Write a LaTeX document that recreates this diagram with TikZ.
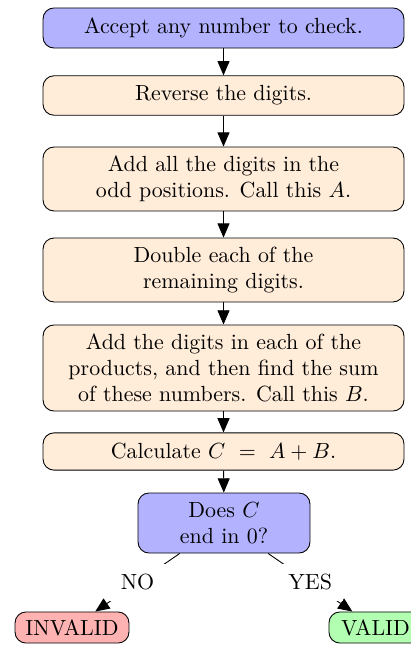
\documentclass[tikz,border=0pt]{standalone}
\usetikzlibrary{arrows.meta}
\begin{document}
\begin{tikzpicture}[x=0.4566pt,y=-0.4566pt,
  box/.style={draw, rounded corners=5pt, align=center, inner sep=0pt,
    minimum width=164.8pt, fill=orange!15},
  startbox/.style={box, fill=blue!30},
  decbox/.style={draw, rounded corners=5pt, align=center, inner sep=0pt,
    fill=blue!30, minimum width=78.5pt, minimum height=27.4pt},
  endbox/.style={draw, rounded corners=5pt, inner sep=0pt, minimum height=14.2pt},
  flow/.style={-{Triangle[length=6.5pt,width=5.5pt]}},
  lab/.style={fill=white, inner sep=5pt}
]
\clip (0,0) rectangle (411,646);
\node[startbox, minimum height=18.3pt] (b1) at (223.5,28) {Accept any number to check.};
\node[box, minimum height=18pt] (b2) at (223.5,95.5) {Reverse the digits.};
\node[box, minimum height=29.2pt] (b3) at (223.5,179) {Add all the digits in the\\odd positions. Call this $A$.};
\node[box, minimum height=29.2pt] (b4) at (223.5,270) {Double each of the\\remaining digits.};
\node[box, minimum height=39.3pt] (b5) at (223.5,368) {Add the digits in each of the\\products, and then find the sum\\of these numbers. Call this $B$.};
\node[box, minimum height=17pt] (b6) at (223.5,451.5) {Calculate $C\ =\ A + B$.};
\node[decbox] (dec) at (224,523) {Does $C$\\end in 0?};
\node[endbox, fill=red!30, minimum width=52pt] (inv) at (72,627.5) {INVALID};
\node[endbox, fill=green!30, minimum width=42.5pt] (val) at (375.5,627.5) {VALID};
\draw[flow] (b1) -- (b2);
\draw[flow] (b2) -- (b3);
\draw[flow] (b3) -- (b4);
\draw[flow] (b4) -- (b5);
\draw[flow] (b5) -- (b6);
\draw[flow] (b6) -- (dec);
\draw[flow] (dec) -- node[lab] {NO} (inv);
\draw[flow] (dec) -- node[lab] {YES} (val);
\end{tikzpicture}
\end{document}
